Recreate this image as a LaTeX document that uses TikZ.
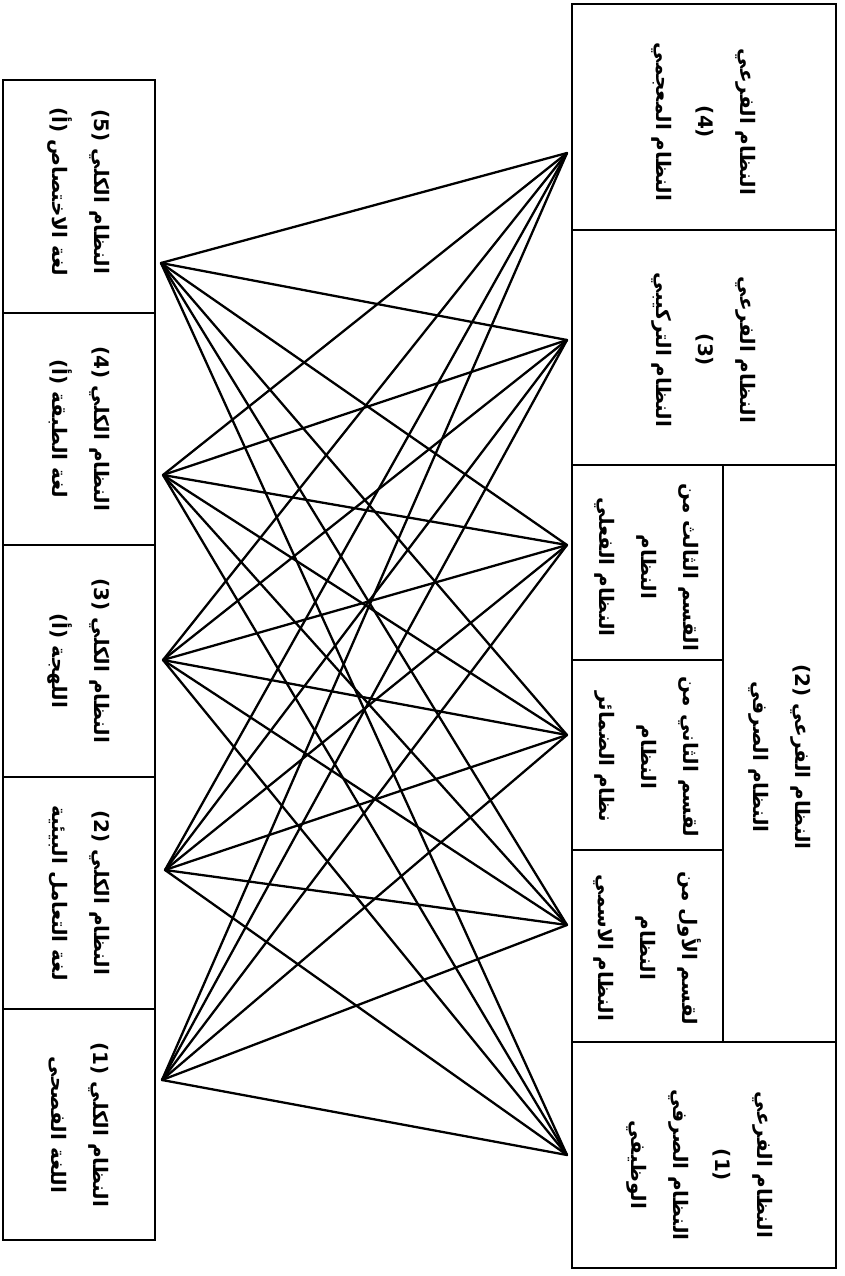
\documentclass[tikz,border=0pt]{standalone}
\usepackage{fontspec}
\newfontfamily\arabicfont[Script=Arabic]{DejaVu Sans}
\TeXXeTstate=1
\begin{document}
\begin{tikzpicture}[x=1pt,y=-1pt,
  box/.style={draw, line width=2.8pt},
  lbl/.style={rotate=-90, align=center, inner sep=0pt,
    font=\arabicfont\bfseries\fontsize{20}{42}\selectfont},
  link/.style={line width=2.3pt, line cap=round}]
\useasboundingbox (0,0) rectangle (845,1276);
% left boxes
\draw[box] (3,80) rectangle (155,1240);
\foreach \y in {313,545,777,1009} \draw[box] (3,\y) -- (155,\y);
% right boxes
\draw[box] (572,4) rectangle (836,1268);
\draw[box] (572,230) -- (836,230);
\draw[box] (572,465) -- (836,465);
\draw[box] (572,1042) -- (836,1042);
\draw[box] (723,465) -- (723,1042);
\draw[box] (572,660) -- (723,660);
\draw[box] (572,850) -- (723,850);
% left labels
\node[lbl] (k5) at (79,192) {\beginR النظام الكلي (5)\endR\\\beginR لغة الاختصاص (أ)\endR};
\node[lbl] (k4) at (79,429) {\beginR النظام الكلي (4)\endR\\\beginR لغة الطبقة (أ)\endR};
\node[lbl] (k3) at (79,661) {\beginR النظام الكلي (3)\endR\\\beginR اللهجة (أ)\endR};
\node[lbl] (k2) at (79,893) {\beginR النظام الكلي (2)\endR\\\beginR لغة التعامل البيئية\endR};
\node[lbl] (k1) at (79,1125) {\beginR النظام الكلي (1)\endR\\\beginR اللغة الفصحى\endR};
% right labels
\node[lbl] (f4) at (704,122) {\beginR النظام الفرعي\endR\\(4)\\\beginR النظام المعجمي\endR};
\node[lbl] (f3) at (704,350) {\beginR النظام الفرعي\endR\\(3)\\\beginR النظام التركيبي\endR};
\node[lbl] (f2) at (780,757) {\beginR النظام الفرعي (2)\endR\\\beginR النظام الصرفي\endR};
\node[lbl] (s3) at (647,567) {\beginR القسم الثالث من\endR\\\beginR النظام\endR\\\beginR النظام الفعلي\endR};
\node[lbl] (s2) at (647,757) {\beginR لقسم الثاني من\endR\\\beginR النظام\endR\\\beginR نظام الضمائر\endR};
\node[lbl] (s1) at (647,948) {\beginR لقسم الأول من\endR\\\beginR النظام\endR\\\beginR النظام الاسمي\endR};
\node[lbl] (f1) at (700,1165) {\beginR النظام الفرعي\endR\\(1)\\\beginR النظام الصرفي\endR\\\beginR الوظيفي\endR};
% connection points
\coordinate (L5) at (161,263);
\coordinate (L4) at (163,475);
\coordinate (L3) at (163,660);
\coordinate (L2) at (165,870);
\coordinate (L1) at (162,1080);
\coordinate (R4) at (567,153);
\coordinate (R3) at (567,340);
\coordinate (R2c) at (567,545);
\coordinate (R2b) at (567,735);
\coordinate (R2a) at (567,925);
\coordinate (R1) at (567,1155);
\foreach \l in {L5,L4,L3,L2,L1}
  \foreach \r in {R4,R3,R2c,R2b,R2a,R1}
    \draw[link] (\l) -- (\r);
\end{tikzpicture}
\end{document}
